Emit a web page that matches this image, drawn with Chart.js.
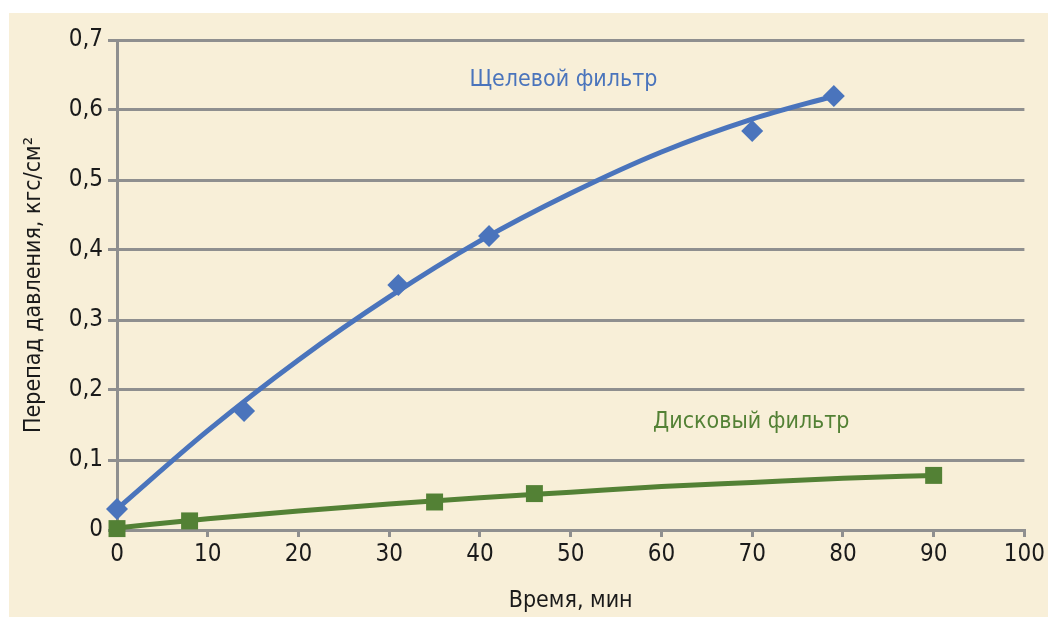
<!DOCTYPE html>
<html lang="ru">
<head>
<meta charset="UTF-8">
<title>Перепад давления</title>
<script src="https://cdn.jsdelivr.net/npm/chart.js"></script>
<style>
  html, body { margin: 0; padding: 0; background: #ffffff; overflow: hidden; }
  #wrap { position: relative; width: 1048px; height: 617px; }
  #myChart { display: block; }
</style>
</head>
<body>
<div id="wrap"><canvas id="myChart" width="1048" height="617"></canvas></div>
<script>
// measured points
const slotTime = [0, 14, 31, 41, 70, 79];
const slotDrop = [0.03, 0.17, 0.35, 0.42, 0.57, 0.62];
const diskTime = [0, 8, 35, 46, 90];
const diskDrop = [0.002, 0.013, 0.04, 0.052, 0.078];

// trend curves
const slotTrendTime = [0, 10, 20, 30, 40, 50, 60, 70, 79];
const slotTrendDrop = [0.03, 0.142, 0.243, 0.333, 0.413, 0.481, 0.54, 0.587, 0.62];
const diskTrendTime = [0, 10, 20, 30, 40, 50, 60, 70, 80, 90];
const diskTrendDrop = [0.003, 0.016, 0.027, 0.037, 0.046, 0.054, 0.062, 0.068, 0.074, 0.078];

const xTicks = [0, 10, 20, 30, 40, 50, 60, 70, 80, 90, 100];
const yTicks = [0, 0.1, 0.2, 0.3, 0.4, 0.5, 0.6, 0.7];

const blue = '#4a74bc';
const green = '#538135';
const gridGray = '#8f8f8f';
const font = '"DejaVu Sans Condensed", "Liberation Sans", sans-serif';

const pairs = (xs, ys) => xs.map((x, i) => ({ x: x, y: ys[i] }));

const bgPlugin = {
  id: 'bg',
  beforeDraw(chart) {
    const ctx = chart.ctx;
    ctx.save();
    ctx.fillStyle = '#f8efd8';
    ctx.fillRect(9, 13, chart.width - 9, chart.height - 13);
    ctx.restore();
  }
};

const labelPlugin = {
  id: 'seriesLabels',
  afterDatasetsDraw(chart) {
    const ctx = chart.ctx;
    const sx = chart.scales.x, sy = chart.scales.y;
    ctx.save();
    ctx.font = '23px ' + font;
    ctx.textAlign = 'center';
    ctx.textBaseline = 'middle';
    ctx.fillStyle = blue;
    ctx.fillText('Щелевой фильтр', sx.getPixelForValue(49.2), sy.getPixelForValue(0.643));
    ctx.fillStyle = green;
    ctx.fillText('Дисковый фильтр', sx.getPixelForValue(69.9), sy.getPixelForValue(0.154));
    ctx.restore();
  }
};

new Chart(document.getElementById('myChart'), {
  type: 'scatter',
  data: {
    datasets: [
      {
        data: pairs(slotTrendTime, slotTrendDrop),
        showLine: true, borderColor: blue, borderWidth: 5,
        pointRadius: 0, cubicInterpolationMode: 'monotone', order: 3
      },
      {
        data: pairs(diskTrendTime, diskTrendDrop),
        showLine: true, borderColor: green, borderWidth: 5,
        pointRadius: 0, cubicInterpolationMode: 'monotone', order: 3
      },
      {
        data: pairs(slotTime, slotDrop),
        pointStyle: 'rectRot', pointRadius: 11,
        backgroundColor: blue, borderColor: blue, borderWidth: 0, order: 1
      },
      {
        data: pairs(diskTime, diskDrop),
        pointStyle: 'rect', pointRadius: 12,
        backgroundColor: green, borderColor: green, borderWidth: 0, order: 1
      }
    ]
  },
  options: {
    responsive: false,
    animation: false,
    clip: false,
    layout: { padding: { left: 0, top: 40, right: 21, bottom: 0 } },
    plugins: { legend: { display: false }, tooltip: { enabled: false } },
    scales: {
      x: {
        type: 'linear', min: 0, max: 100,
        afterFit: s => { s.height = 87; },
        afterBuildTicks: s => { s.ticks = xTicks.map(v => ({ value: v })); },
        grid: { drawOnChartArea: false, drawTicks: true, tickLength: 7, color: gridGray, lineWidth: 3 },
        border: { display: true, color: gridGray, width: 3 },
        ticks: { color: '#1a1a1a', padding: 3, font: { family: font, size: 24 } },
        title: { display: true, text: 'Время, мин', color: '#1a1a1a', padding: { top: 0, bottom: 2 }, font: { family: font, size: 23 } }
      },
      y: {
        min: 0, max: 0.7,
        afterFit: s => { s.width = 117; },
        afterBuildTicks: s => { s.ticks = yTicks.map(v => ({ value: v })); },
        grid: { drawTicks: true, tickLength: 9, color: gridGray, lineWidth: 3 },
        border: { display: true, color: gridGray, width: 3 },
        ticks: {
          color: '#1a1a1a', padding: 5, font: { family: font, size: 24 },
          callback: v => v === 0 ? '0' : v.toFixed(1).replace('.', ',')
        },
        title: { display: true, text: 'Перепад давления, кгс/см²', color: '#1a1a1a', padding: { top: 20, bottom: 0 }, font: { family: font, size: 23 } }
      }
    }
  },
  plugins: [bgPlugin, labelPlugin]
});
</script>
</body>
</html>
